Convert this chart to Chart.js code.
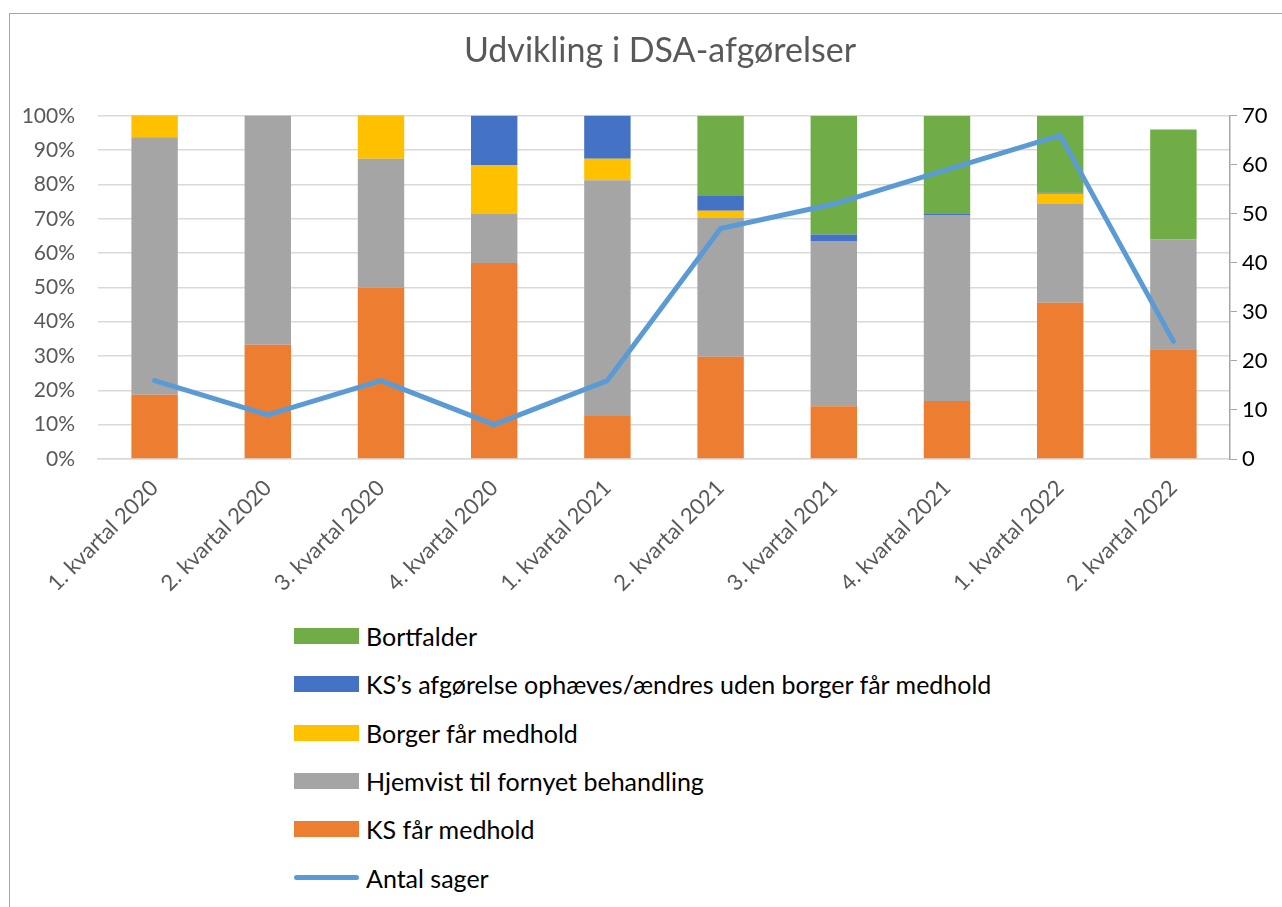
<!DOCTYPE html>
<html lang="da">
<head>
    <meta charset="UTF-8">
    <title>Udvikling i DSA-afgørelser</title>
    <script src="https://cdn.jsdelivr.net/npm/chart.js"></script>
    <style>
        body {
            margin: 0;
            background: #fff;
            overflow: hidden;
            font-family: Lato, "Noto Sans", sans-serif;
        }
        #frame {
            position: absolute;
            left: 9px;
            top: 13px;
            width: 1320px;
            height: 940px;
            border: 1px solid #a6a6a6;
        }
        #chart-container {
            position: absolute;
            left: 0;
            top: 0;
            width: 1320px;
            height: 609px;
        }
        #legend {
            position: absolute;
            left: 294px;
            top: 612px;
            list-style: none;
            margin: 0;
            padding: 0;
        }
        #legend li {
            height: 48.3px;
            display: flex;
            align-items: center;
            font-size: 25px;
            color: #000;
        }
        #legend .box {
            width: 65px;
            height: 16px;
            margin-right: 7px;
        }
        #legend .line {
            width: 65px;
            height: 5px;
            border-radius: 3px;
            margin-right: 7px;
        }
    </style>
</head>
<body>
    <div id="frame"></div>
    <div id="chart-container">
        <canvas id="mixChart"></canvas>
    </div>
    <ul id="legend"></ul>

    <script>
        // kategorier
        const labels = [
            "1. kvartal 2020", "2. kvartal 2020", "3. kvartal 2020", "4. kvartal 2020",
            "1. kvartal 2021", "2. kvartal 2021", "3. kvartal 2021", "4. kvartal 2021",
            "1. kvartal 2022", "2. kvartal 2022"
        ];
        // andele i procent (aflæst)
        const ksMedhold      = [18.75, 33.3, 50.0, 57.1, 12.5, 29.8, 15.4, 16.9, 45.5, 32.0];
        const hjemvist       = [75.0, 66.7, 37.5, 14.3, 68.75, 40.4, 48.1, 54.2, 28.8, 32.0];
        const borgerMedhold  = [6.25, 0, 12.5, 14.3, 6.25, 2.1, 0, 0, 3.0, 0];
        const ophaeves       = [0, 0, 0, 14.3, 12.5, 4.3, 1.9, 0.3, 0.3, 0];
        const bortfalder     = [0.3, 0.3, 0.3, 0.3, 0.3, 23.4, 34.6, 28.6, 22.4, 32.0];
        // antal sager (højre akse)
        const antalSager     = [16, 9, 16, 7, 16, 47, 52, 59, 66, 24];

        const pctTicks = [0, 10, 20, 30, 40, 50, 60, 70, 80, 90, 100];
        const antalTicks = [0, 10, 20, 30, 40, 50, 60, 70];

        const font = "Lato, 'Noto Sans', sans-serif";

        function bar(label, data, color) {
            return {
                type: "bar",
                label: label,
                data: data,
                backgroundColor: color,
                yAxisID: "y",
                order: 1,
                barPercentage: 0.41,
                categoryPercentage: 1
            };
        }

        const ctx = document.getElementById("mixChart").getContext("2d");
        const chart = new Chart(ctx, {
            data: {
                labels: labels,
                datasets: [
                    {
                        type: "line",
                        label: "Antal sager",
                        data: antalSager,
                        borderColor: "#5B9BD5",
                        backgroundColor: "#5B9BD5",
                        borderWidth: 5,
                        pointRadius: 0,
                        borderCapStyle: "round",
                        borderJoinStyle: "round",
                        tension: 0,
                        yAxisID: "y1",
                        order: 0
                    },
                    bar("KS får medhold", ksMedhold, "#ED7D31"),
                    bar("Hjemvist til fornyet behandling", hjemvist, "#A5A5A5"),
                    bar("Borger får medhold", borgerMedhold, "#FFC000"),
                    bar("KS’s afgørelse ophæves/ændres uden borger får medhold", ophaeves, "#4472C4"),
                    bar("Bortfalder", bortfalder, "#70AD47")
                ]
            },
            options: {
                responsive: true,
                maintainAspectRatio: false,
                animation: false,
                layout: { padding: { left: 0, right: 0, top: 0, bottom: 0 } },
                plugins: {
                    legend: { display: false },
                    tooltip: { enabled: false },
                    title: {
                        display: true,
                        text: "Udvikling i DSA-afgørelser",
                        color: "#595959",
                        font: { family: font, size: 34, weight: "normal" },
                        padding: { top: 31, bottom: 44 }
                    }
                },
                scales: {
                    x: {
                        stacked: true,
                        grid: { display: false },
                        border: { display: true, color: "#d9d9d9", width: 1.5 },
                        ticks: {
                            color: "#595959",
                            font: { family: font, size: 22 },
                            minRotation: 45,
                            maxRotation: 45,
                            padding: 8
                        },
                        afterFit: s => { s.height = 150; }
                    },
                    y: {
                        stacked: true,
                        position: "left",
                        min: 0,
                        max: 100,
                        afterBuildTicks: s => { s.ticks = pctTicks.map(v => ({ value: v })); },
                        ticks: {
                            color: "#595959",
                            font: { family: font, size: 21 },
                            padding: 23,
                            callback: v => v + "%"
                        },
                        grid: { color: "#d9d9d9", lineWidth: 1.5, drawTicks: false },
                        border: { display: false },
                        afterFit: s => { s.width = 98; }
                    },
                    y1: {
                        position: "right",
                        min: 0,
                        max: 70,
                        afterBuildTicks: s => { s.ticks = antalTicks.map(v => ({ value: v })); },
                        ticks: {
                            color: "#000",
                            font: { family: font, size: 22 },
                            padding: 5
                        },
                        grid: { drawOnChartArea: false, drawTicks: true, tickLength: 7, color: "#a6a6a6" },
                        border: { display: true, color: "#a6a6a6", width: 1.5 },
                        afterFit: s => { s.width = 90; }
                    }
                }
            }
        });

        // forklaring som lodret liste, bygget fra datasættene
        const legendEl = document.getElementById("legend");
        const bars = chart.data.datasets.filter(d => d.type === "bar").reverse();
        const lines = chart.data.datasets.filter(d => d.type === "line");
        bars.concat(lines).forEach(d => {
            const li = document.createElement("li");
            const mark = document.createElement("span");
            mark.className = d.type === "line" ? "line" : "box";
            mark.style.background = d.type === "line" ? d.borderColor : d.backgroundColor;
            li.appendChild(mark);
            li.appendChild(document.createTextNode(d.label));
            legendEl.appendChild(li);
        });
    </script>
</body>
</html>
